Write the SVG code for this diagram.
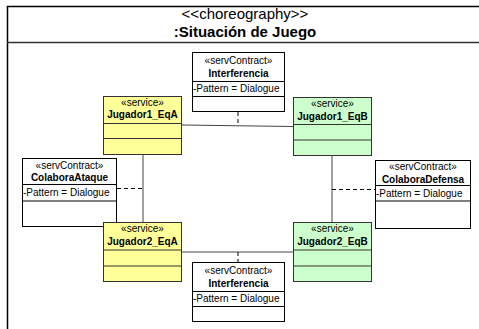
<svg xmlns="http://www.w3.org/2000/svg" width="479" height="329" viewBox="0 0 479 329">
<style>
text{font-family:"Liberation Sans",Arial,sans-serif;fill:#000}
.st{font-size:10px;text-anchor:middle}
.nm{font-size:10px;font-weight:bold;text-anchor:middle}
.at{font-size:10px}
.ttl{font-size:15px;text-anchor:middle}
.box{fill:#fff;stroke:#000;stroke-width:1}
.ya{fill:#FFFF99;stroke:#333;stroke-width:1}
.gb{fill:#CCFFCC;stroke:#333;stroke-width:1}
.sep{stroke:#000;stroke-width:1}
.sepc{stroke:#333;stroke-width:1}
.ln{stroke:#444;stroke-width:1;fill:none}
.dl{stroke:#000;stroke-width:1;stroke-dasharray:4,3;fill:none}
</style>
<rect x="0" y="0" width="479" height="329" fill="#fff"/>
<g id="frame">
<path d="M7.5,340 V6.5 H490" fill="none" stroke="#000" stroke-width="1.5"/>
<line x1="7" y1="42.5" x2="490" y2="42.5" stroke="#333" stroke-width="1.5"/>
<text class="ttl" x="245" y="19">&lt;&lt;choreography&gt;&gt;</text>
<text class="ttl" x="245" y="37" font-weight="bold">:Situación de Juego</text>
</g>
<g id="connectors">
<line class="ln" x1="182" y1="125" x2="293" y2="126.5"/>
<line class="ln" x1="182" y1="252" x2="293" y2="252"/>
<line class="ln" x1="143" y1="154" x2="143" y2="222" stroke="#666" stroke-width="1.5"/>
<line class="ln" x1="332" y1="156" x2="332" y2="222" stroke="#666" stroke-width="1.5"/>
<line class="dl" x1="238" y1="112" x2="238" y2="125.5"/>
<line class="dl" x1="238" y1="252" x2="238" y2="263"/>
<line class="dl" x1="117" y1="188.5" x2="143" y2="188.5"/>
<line class="dl" x1="332" y1="189.5" x2="375" y2="189.5"/>
</g>
<g id="Interferencia1">
<rect class="box" x="192.5" y="52.5" width="92" height="59"/>
<line class="sep" x1="192.5" y1="81.5" x2="284.5" y2="81.5"/>
<line class="sep" x1="192.5" y1="96.5" x2="284.5" y2="96.5"/>
<text class="st" x="238.5" y="64">«servContract»</text>
<text class="nm" x="238.5" y="77">Interferencia</text>
<text class="at" x="193" y="92">-Pattern = Dialogue</text>
</g>
<g id="Interferencia2">
<rect class="box" x="192.5" y="262.5" width="92" height="59"/>
<line class="sep" x1="192.5" y1="291.5" x2="284.5" y2="291.5"/>
<line class="sep" x1="192.5" y1="306.5" x2="284.5" y2="306.5"/>
<text class="st" x="238.5" y="274">«servContract»</text>
<text class="nm" x="238.5" y="287">Interferencia</text>
<text class="at" x="193" y="302">-Pattern = Dialogue</text>
</g>
<g id="ColaboraAtaque">
<rect class="box" x="22.5" y="158.5" width="94" height="68"/>
<line class="sep" x1="22.5" y1="184.5" x2="116.5" y2="184.5"/>
<line class="sep" x1="22.5" y1="201" x2="116.5" y2="201"/>
<text class="st" x="69.5" y="168.5">«servContract»</text>
<text class="nm" x="69.5" y="181">ColaboraAtaque</text>
<text class="at" x="23" y="196">-Pattern = Dialogue</text>
</g>
<g id="ColaboraDefensa">
<rect class="box" x="375.5" y="160.5" width="95" height="68"/>
<line class="sep" x1="375.5" y1="185.5" x2="470.5" y2="185.5"/>
<line class="sep" x1="375.5" y1="201" x2="470.5" y2="201"/>
<text class="st" x="423" y="170">«servContract»</text>
<text class="nm" x="423" y="182.5">ColaboraDefensa</text>
<text class="at" x="376" y="197">-Pattern = Dialogue</text>
</g>
<g id="Jugador1_EqA">
<rect class="ya" x="103.5" y="96.5" width="78" height="58"/>
<line class="sepc" x1="103.5" y1="123.5" x2="181.5" y2="123.5"/>
<line class="sepc" x1="103.5" y1="138.5" x2="181.5" y2="138.5"/>
<text class="st" x="142.5" y="105.5">«service»</text>
<text class="nm" x="142.5" y="118">Jugador1_EqA</text>
</g>
<g id="Jugador1_EqB">
<rect class="gb" x="293.5" y="97.5" width="78" height="58"/>
<line class="sepc" x1="293.5" y1="124.5" x2="371.5" y2="124.5"/>
<line class="sepc" x1="293.5" y1="140" x2="371.5" y2="140"/>
<text class="st" x="332.5" y="106.5">«service»</text>
<text class="nm" x="332.5" y="119.5">Jugador1_EqB</text>
</g>
<g id="Jugador2_EqA">
<rect class="ya" x="103.5" y="222.5" width="78" height="59"/>
<line class="sepc" x1="103.5" y1="250" x2="181.5" y2="250"/>
<line class="sepc" x1="103.5" y1="266" x2="181.5" y2="266"/>
<text class="st" x="142.5" y="232">«service»</text>
<text class="nm" x="142.5" y="245">Jugador2_EqA</text>
</g>
<g id="Jugador2_EqB">
<rect class="gb" x="293.5" y="222.5" width="78" height="59"/>
<line class="sepc" x1="293.5" y1="250" x2="371.5" y2="250"/>
<line class="sepc" x1="293.5" y1="266" x2="371.5" y2="266"/>
<text class="st" x="332.5" y="232">«service»</text>
<text class="nm" x="332.5" y="245">Jugador2_EqB</text>
</g>
</svg>
